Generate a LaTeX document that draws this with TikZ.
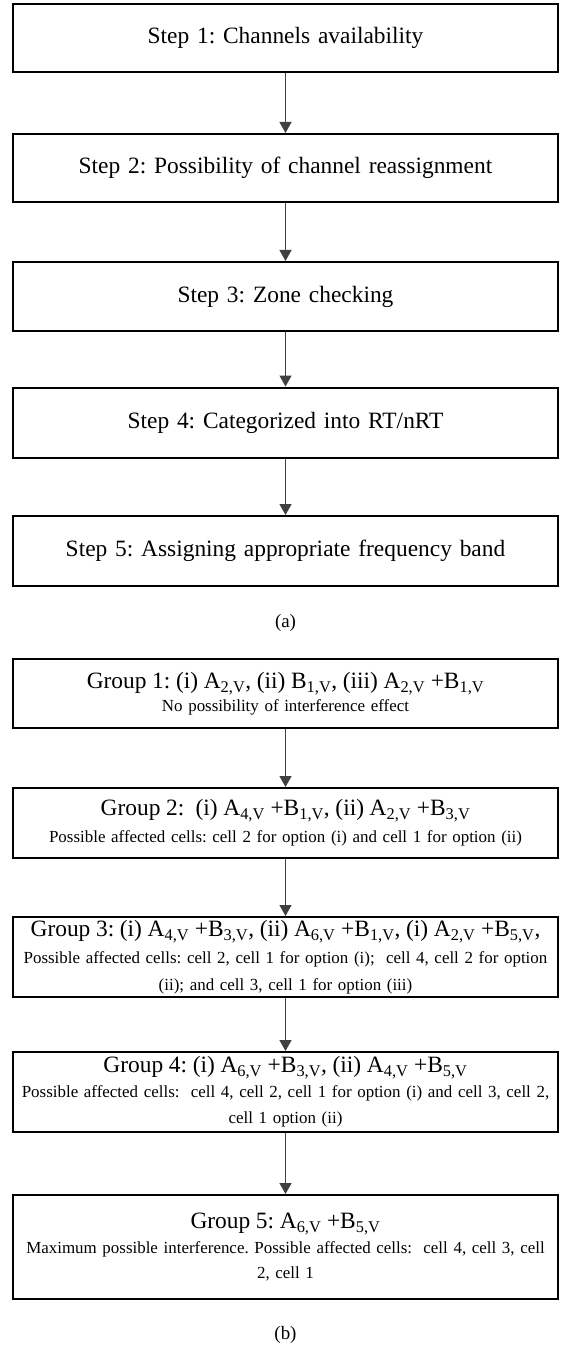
\documentclass[tikz,border=0pt]{standalone}
\usepackage{fontspec}
\setmainfont{Liberation Serif}
\usepackage{tikz}
\usetikzlibrary{arrows.meta}
\usetikzlibrary{calc}
\frenchspacing
\tikzset{
  stepbox/.style={draw, line width=2bp, minimum width=545bp, text width=535bp,
    inner sep=0pt, align=center, font=\fontsize{23.5}{28}\selectfont},
  groupbox/.style={stepbox, font=\fontsize{17}{25}\selectfont},
  flow/.style={draw=black!75, line width=1.3bp, -{Triangle[length=11bp,width=12bp]}}
}
\newcommand{\gtitle}[1]{{\fontsize{23.5}{28}\selectfont #1}}
\newcommand{\sub}[1]{\textsubscript{#1}}

\begin{document}
\begin{tikzpicture}[x=1bp,y=-1bp]%flow (a) and (b)
\useasboundingbox (0,0) rectangle (564,1347);
% (a)
\node[stepbox, minimum height=68bp] (s1) at (285.5,38) {Step 1: Channels availability};
\node[stepbox, minimum height=68bp] (s2) at (285.5,168) {Step 2: Possibility of channel reassignment};
\node[stepbox, minimum height=69bp] (s3) at (285.5,296.5) {Step 3: Zone checking};
\node[stepbox, minimum height=70bp] (s4) at (285.5,422.5) {Step 4: Categorized into RT/nRT};
\node[stepbox, minimum height=70bp] (s5) at (285.5,551) {Step 5: Assigning appropriate frequency band};
\node[font=\fontsize{19}{23}\selectfont] (la) at (285.5,623) {(a)};
% (b)
\node[groupbox, minimum height=69bp] (g1) at (285.5,693.5)
  {\gtitle{Group 1: (i) A\sub{2,V}, (ii) B\sub{1,V}, (iii) A\sub{2,V} +B\sub{1,V}}\\[-2bp]
   No possibility of interference effect};
\node[groupbox, minimum height=70bp] (g2) at (285.5,823)
  {\gtitle{Group 2:~ (i) A\sub{4,V} +B\sub{1,V}, (ii) A\sub{2,V} +B\sub{3,V}}\\[2bp]
   Possible affected cells: cell 2 for option (i) and cell 1 for option (ii)};
\node[groupbox, minimum height=80bp] (g3) at (285.5,957)
  {\gtitle{Group 3: (i) A\sub{4,V} +B\sub{3,V}, (ii) A\sub{6,V} +B\sub{1,V}, (i) A\sub{2,V} +B\sub{5,V},}\\[2bp]
   Possible affected cells: cell 2, cell 1 for option (i);~ cell 4, cell 2 for option\\[2bp]
   (ii); and cell 3, cell 1 for option (iii)};
\node[groupbox, minimum height=80bp] (g4) at (285.5,1092)
  {\gtitle{Group 4: (i) A\sub{6,V} +B\sub{3,V}, (ii) A\sub{4,V} +B\sub{5,V}}\\
   Possible affected cells:~ cell 4, cell 2, cell 1 for option (i) and cell 3, cell 2,\\[1bp]
   cell 1 option (ii)};
\node[groupbox, minimum height=104bp] (g5) at (285.5,1247)
  {\gtitle{Group 5: A\sub{6,V} +B\sub{5,V}}\\
   Maximum possible interference. Possible affected cells:~ cell 4, cell 3, cell\\
   2, cell 1};
\node[font=\fontsize{19}{23}\selectfont] (lb) at (285.5,1335) {(b)};
% arrows
\foreach \a/\b in {s1/s2,s2/s3,s3/s4,s4/s5,g1/g2,g2/g3,g3/g4,g4/g5}
  \draw[flow] (\a.south) -- (\b.north);
\end{tikzpicture}
\end{document}
